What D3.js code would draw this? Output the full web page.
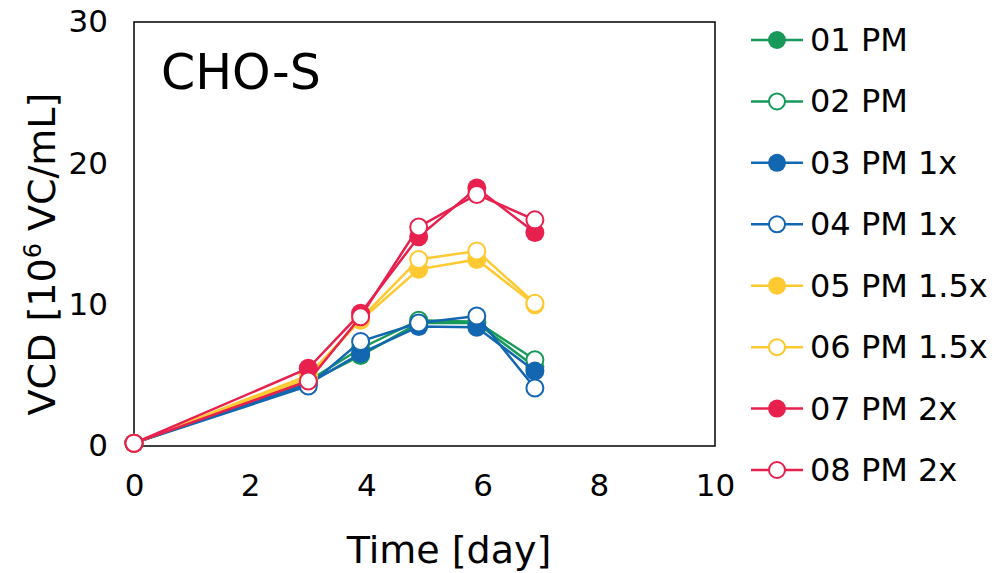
<!DOCTYPE html>
<html><head><meta charset="utf-8">
<script src="https://cdn.jsdelivr.net/npm/d3@7"></script>
<style>body{margin:0;background:#fff}text{font-family:"DejaVu Sans",Verdana,sans-serif;fill:#000}</style>
</head><body><svg id="c" width="995" height="573"></svg>
<script>
const days = [0, 3, 3.9, 4.9, 5.9, 6.9];
const seriesNames = ["01 PM","02 PM","03 PM 1x","04 PM 1x","05 PM 1.5x","06 PM 1.5x","07 PM 2x","08 PM 2x"];
const seriesColors = ["#17995a","#17995a","#1366b0","#1366b0","#ffc931","#ffc931","#e8204e","#e8204e"];
const seriesFilled = [true,false,true,false,true,false,true,false];
const v01 = [0.2, 4.5, 6.4, 8.7, 8.7, 5.6];
const v02 = [0.2, 4.6, 6.9, 8.9, 8.8, 6.1];
const v03 = [0.2, 4.4, 6.55, 8.45, 8.4, 5.3];
const v04 = [0.2, 4.25, 7.4, 8.7, 9.2, 4.1];
const v05 = [0.2, 5.0, 8.9, 12.5, 13.2, 10.0];
const v06 = [0.2, 4.8, 9.0, 13.2, 13.8, 10.1];
const v07 = [0.2, 5.5, 9.4, 14.8, 18.25, 15.1];
const v08 = [0.2, 4.6, 9.15, 15.5, 17.8, 16.0];
const seriesValues = [v01,v02,v03,v04,v05,v06,v07,v08];
const xTicks = [0,2,4,6,8,10];
const yTicks = [0,10,20,30];

const svg = d3.select("#c");
const L=134,R=715,T=22,B=446;
const x = d3.scaleLinear().domain([0,10]).range([L,R]);
const y = d3.scaleLinear().domain([0,30]).range([B,T]);

svg.append("rect").attr("x",L).attr("y",T).attr("width",R-L).attr("height",B-T)
  .attr("fill","none").attr("stroke","#000").attr("stroke-width",1.5);

const xa = svg.append("g").attr("transform",`translate(0,${B})`)
  .call(d3.axisBottom(x).tickValues(xTicks).tickSize(0).tickPadding(28).tickFormat(d3.format("d")));
xa.select(".domain").remove();
xa.selectAll("text").attr("font-size",31).style("font-family","DejaVu Sans");
const ya = svg.append("g").attr("transform",`translate(${L},0)`)
  .call(d3.axisLeft(y).tickValues(yTicks).tickSize(0).tickPadding(26).tickFormat(d3.format("d")));
ya.select(".domain").remove();
ya.selectAll("text").attr("font-size",31).style("font-family","DejaVu Sans");

svg.append("text").attr("x",449).attr("y",563).attr("text-anchor","middle").attr("font-size",38).text("Time [day]");
const yl = svg.append("text").attr("transform",`translate(55,254) rotate(-90)`).attr("text-anchor","middle").attr("font-size",38);
yl.append("tspan").text("VCD [10");
yl.append("tspan").attr("font-size",24).attr("dy",-14).text("6");
yl.append("tspan").attr("dy",14).text(" VC/mL]");

svg.append("text").attr("x",161).attr("y",89).attr("font-size",49).text("CHO-S");

const line = d3.line().x((d,i)=>x(days[i])).y(d=>y(d));
seriesValues.forEach((vals,s)=>{
  const g = svg.append("g");
  g.append("path").attr("d",line(vals)).attr("fill","none").attr("stroke",seriesColors[s]).attr("stroke-width",2.5);
  g.selectAll("circle").data(vals).join("circle")
    .attr("cx",(d,i)=>x(days[i])).attr("cy",d=>y(d)).attr("r",seriesFilled[s]?9.5:8.5)
    .attr("fill",seriesFilled[s]?seriesColors[s]:"#fff")
    .attr("stroke",seriesColors[s]).attr("stroke-width",seriesFilled[s]?0:2);
});

const legY = d3.scaleLinear().domain([0,7]).range([40,470]);
seriesNames.forEach((n,s)=>{
  const yy = legY(s);
  svg.append("line").attr("x1",751).attr("x2",803).attr("y1",yy).attr("y2",yy).attr("stroke",seriesColors[s]).attr("stroke-width",2.5);
  svg.append("circle").attr("cx",777).attr("cy",yy).attr("r",seriesFilled[s]?9:8)
    .attr("fill",seriesFilled[s]?seriesColors[s]:"#fff").attr("stroke",seriesColors[s]).attr("stroke-width",seriesFilled[s]?0:2);
  svg.append("text").attr("x",810).attr("y",yy+11).attr("font-size",32).text(n);
});
</script></body></html>
